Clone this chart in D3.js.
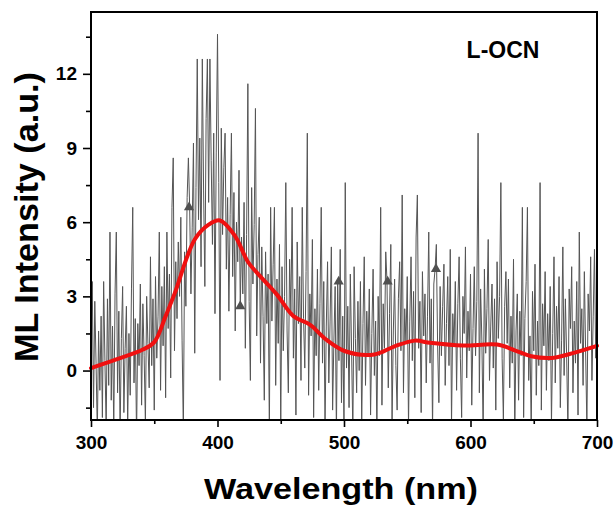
<!DOCTYPE html>
<html>
<head>
<meta charset="utf-8">
<script src="https://cdn.jsdelivr.net/npm/d3@7"></script>
<style>
  body { margin: 0; background: #fff; }
  svg { font-family: "Liberation Sans", Arial, sans-serif; font-weight: bold; }
</style>
</head>
<body>
<svg id="chart" width="616" height="511"></svg>
<script>
// raw ML spectrum, 300..700 nm in 1 nm steps
const startWl = 300;
const intensity = [
  1.2, 3.6, -1.5, 2.8, 0.3, -2.5, 1.6, -0.8, 2.2, -1.9, 3.6, 0.4, -2.3, 2.9, -0.6, 5.6, -1.2, 1.8, -2.4, 3.1,
  5.6, -0.9, 2.4, -2.6, 1.3, 3.4, -1.7, 0.9, 2.6, -2.2, 1.5, -1.0, 3.3, 6.6, -0.5, 2.1, -2.8, 1.9, 0.2, 3.5,
  -1.4, 2.7, 0.6, -2.1, 3.0, 1.1, -0.7, 4.6, 0.2, 2.9, -1.6, 3.8, 0.5, 2.2, 5.6, -0.8, 3.4, 1.0, 4.2, -1.1,
  5.6, 1.7, 3.9, -0.3, 6.6, 8.6, 0.8, 4.4, 2.1, 5.2, 3.0, 6.2, 1.2, -2.5, 4.8, 2.6, 7.0, 8.6, 6.6, 3.1,
  5.8, 9.2, 0.7, 7.4, 12.6, 6.1, 9.4, 4.2, 12.6, 7.3, 3.4, 10.2, 12.6, 6.8, 12.6, 8.5, 5.1, 9.6, 2.3, 8.8,
  13.6, 7.6, -0.4, 9.8, 5.5, 8.2, 9.6, 4.1, 7.0, 2.4, 6.3, 9.6, 3.8, 7.2, 1.6, 6.0, 4.4, 8.1, 2.6, 5.4,
  3.1, 6.8, 0.9, 5.5, 11.6, 2.8, -0.4, 7.4, 3.5, 5.9, 10.6, 1.4, 4.7, 6.2, 0.3, 5.0, 2.2, -1.2, 4.8, 1.9,
  3.9, -2.5, 6.6, 2.0, 4.3, 6.6, -0.6, 3.7, 1.1, 5.1, -2.4, 4.2, 0.8, 3.0, 7.6, 1.6, -0.9, 4.5, 2.4, 6.6,
  0.5, 3.3, -1.8, 5.2, 1.9, 3.8, -0.4, 6.6, 2.1, 0.1, 4.0, 9.6, -1.0, 3.1, 1.4, 5.3, -1.9, 2.5, 0.6, 4.1,
  -0.8, 2.7, 6.6, 0.3, 3.6, -2.3, 1.8, 4.4, -0.5, 2.0, 5.0, -1.6, 1.2, 3.4, -2.6, 3.6, 0.4, 4.9, -1.3, 2.2,
  -2.4, 7.6, 0.1, 2.6, -1.5, 3.9, 0.8, -2.6, 4.2, 1.3, -0.9, 2.8, 0.0, 3.6, -2.2, 1.9, 4.6, -0.6, 2.4, 0.7,
  3.3, -1.8, 1.5, 4.1, -0.2, 2.0, -2.5, 3.0, 0.6, 6.6, -1.4, 2.7, 0.9, 4.8, 3.6, -0.7, 2.3, 5.1, -2.1, 1.6,
  3.7, 0.2, -1.6, 2.9, 4.4, 0.8, 7.1, -0.9, 2.5, 1.1, 3.8, -2.3, 2.0, 4.6, 0.4, 3.2, -1.1, 5.4, 7.1, 0.9,
  2.8, -1.7, 4.0, 1.4, 3.1, -0.5, 2.2, 5.6, 0.3, 2.9, -2.4, 3.5, 4.1, 5.1, 1.0, -1.3, 3.4, 0.6, 2.6, 4.3,
  -0.6, 1.9, 3.8, 0.2, 4.9, -2.2, 2.3, 1.0, 3.6, -0.8, 2.7, 4.6, 0.5, -1.9, 3.0, 1.5, 5.0, -0.3, 2.4, 0.8,
  3.9, -1.4, 1.7, 4.2, 0.6, 2.8, 9.6, -0.9, 3.3, 1.2, -2.5, 4.1, 0.7, 2.5, 5.3, -0.4, 1.8, 3.5, 0.1, 2.9,
  -1.6, 4.4, 1.3, 3.0, 7.6, 0.5, -2.0, 2.6, 4.0, 1.1, 3.7, -0.7, 2.2, 0.3, 4.5, -2.6, 1.6, 3.1, -1.2, 2.4,
  0.6, 6.6, -1.9, 2.1, 3.6, 6.6, -0.4, 1.4, -2.5, 3.2, 0.8, 4.3, -1.0, 2.0, 0.2, 7.6, -1.6, 2.7, 1.0, 4.0,
  -0.8, 2.3, 0.4, 3.4, -2.2, 1.5, 4.6, -0.5, 2.6, 0.9, 3.8, -1.5, 1.2, 5.0, -0.2, 2.9, 0.6, -2.4, 3.3, 1.7,
  4.2, -0.9, 2.0, 0.3, 3.6, -1.8, 5.6, 1.1, 2.5, -0.6, 4.0, 0.8, -2.3, 3.1, 1.6, 4.6, -0.4, 2.2, 4.9, 0.5,
  1.9
];

// smoothed fit (red)
const fitWl = [300, 320, 341, 350, 359, 366, 382, 393, 402, 414, 424, 434, 447, 460, 473, 486, 501, 524, 540, 556, 568, 594, 621, 635, 648, 664, 677, 700];
const fitVal = [0.1, 0.45, 0.85, 1.15, 2.2, 3.1, 5.3, 5.9, 6.07, 5.43, 4.4, 3.8, 3.07, 2.2, 1.86, 1.25, 0.78, 0.65, 0.98, 1.21, 1.12, 1.01, 1.05, 0.82, 0.58, 0.51, 0.65, 1.0];

// triangle markers
const markWl = [377.5, 418, 495.8, 534.5, 572.7];
const markVal = [6.6, 2.6, 3.6, 3.6, 4.1];

const xTicks = [300, 400, 500, 600, 700];
const xMinor = [350, 450, 550, 650];
const yTicks = [0, 3, 6, 9, 12];
const yMinor = [-1.5, 1.5, 4.5, 7.5, 10.5, 13.5];

const mLeft = 91, mRight = 597, mTop = 12, mBottom = 420;

const svg = d3.select("#chart");

const xScale = d3.scaleLinear().domain([300, 700]).range([mLeft, mRight]);
const yScale = d3.scaleLinear().domain([-2, 14.5]).range([mBottom, mTop]);

svg.append("defs").append("clipPath")
  .attr("id", "plot-clip")
  .append("rect")
  .attr("x", mLeft).attr("y", mTop)
  .attr("width", mRight - mLeft).attr("height", mBottom - mTop);

const raw = intensity.map((v, i) => [startWl + i, v]);

svg.append("path")
  .datum(raw)
  .attr("clip-path", "url(#plot-clip)")
  .attr("fill", "none")
  .attr("stroke", "#555")
  .attr("stroke-width", 1)
  .attr("d", d3.line().x(d => xScale(d[0])).y(d => yScale(d[1])));

svg.selectAll(".mark")
  .data(markWl.map((w, i) => [w, markVal[i]]))
  .enter().append("path")
  .attr("class", "mark")
  .attr("transform", d => `translate(${xScale(d[0])},${yScale(d[1])})`)
  .attr("d", d3.symbol().type(d3.symbolTriangle).size(45))
  .attr("fill", "#505050");

const fit = fitWl.map((w, i) => [w, fitVal[i]]);

svg.append("path")
  .datum(fit)
  .attr("fill", "none")
  .attr("stroke", "#f01010")
  .attr("stroke-width", 4)
  .attr("stroke-linecap", "round")
  .attr("d", d3.line().curve(d3.curveCatmullRom.alpha(0.5)).x(d => xScale(d[0])).y(d => yScale(d[1])));

// axes
const xAxis = d3.axisBottom(xScale).tickValues(xTicks).tickSize(7).tickPadding(9).tickFormat(d3.format("d"));
const yAxis = d3.axisLeft(yScale).tickValues(yTicks).tickSize(8).tickPadding(6);

svg.append("g")
  .attr("transform", `translate(0, ${mBottom})`)
  .call(xAxis);

svg.append("g")
  .attr("transform", `translate(0, ${mBottom})`)
  .call(d3.axisBottom(xScale).tickValues(xMinor).tickSize(4).tickFormat(""));

svg.append("g")
  .attr("transform", `translate(${mLeft}, 0)`)
  .call(yAxis);

svg.append("g")
  .attr("transform", `translate(${mLeft}, 0)`)
  .call(d3.axisLeft(yScale).tickValues(yMinor).tickSize(5).tickFormat(""));

svg.selectAll(".domain").remove();
svg.selectAll(".tick line").attr("stroke", "#000").attr("stroke-width", 1.6);
svg.selectAll(".tick text")
  .attr("fill", "#000")
  .style("font-size", "19px")
  .style("font-weight", "bold");

svg.append("rect")
  .attr("x", mLeft).attr("y", mTop)
  .attr("width", mRight - mLeft).attr("height", mBottom - mTop)
  .attr("fill", "none")
  .attr("stroke", "#000")
  .attr("stroke-width", 2);

svg.append("text")
  .attr("x", 503).attr("y", 58)
  .attr("text-anchor", "middle")
  .style("font-size", "23px")
  .text("L-OCN");

svg.append("text")
  .attr("x", 341).attr("y", 499)
  .attr("text-anchor", "middle")
  .attr("textLength", 274)
  .attr("lengthAdjust", "spacingAndGlyphs")
  .style("font-size", "29px")
  .text("Wavelength (nm)");

svg.append("text")
  .attr("transform", "translate(38, 217) rotate(-90)")
  .attr("text-anchor", "middle")
  .attr("textLength", 290)
  .attr("lengthAdjust", "spacingAndGlyphs")
  .style("font-size", "34px")
  .text("ML Intensity (a.u.)");
</script>
</body>
</html>
